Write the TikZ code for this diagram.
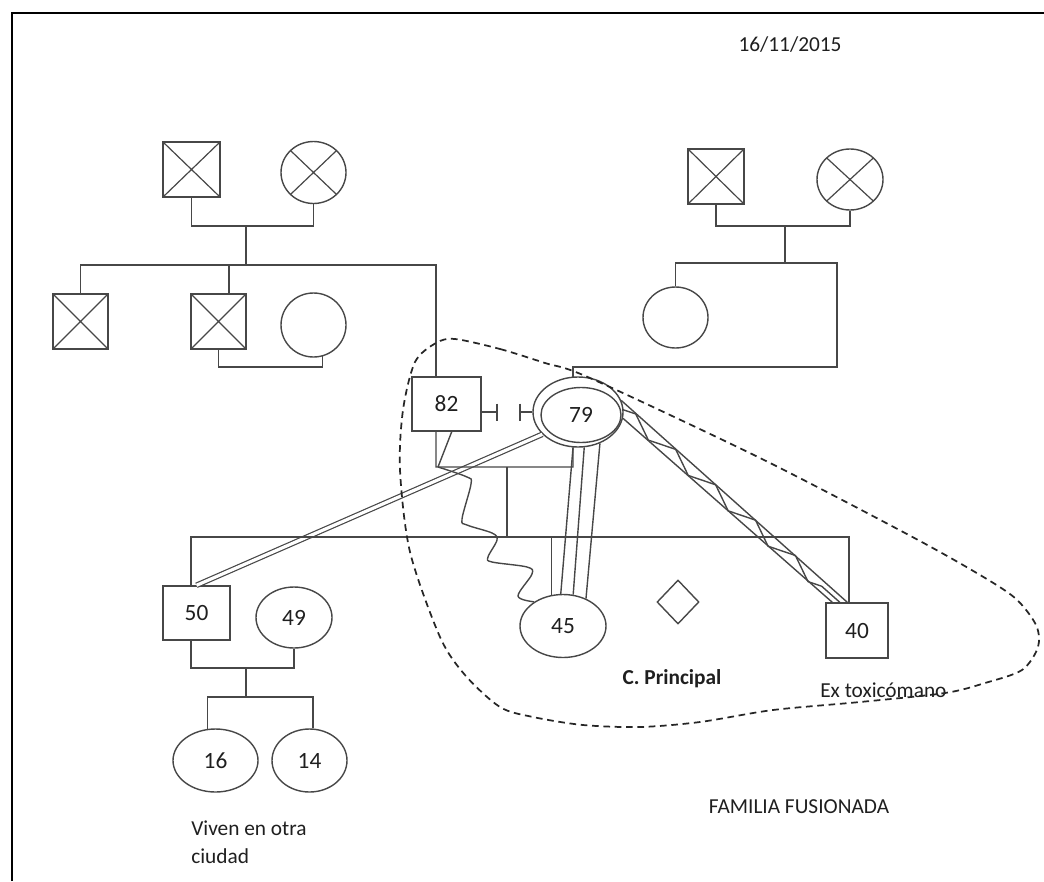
\documentclass[tikz,border=0pt]{standalone}
\usepackage{fontspec}
\setmainfont{Carlito}
\usetikzlibrary{shapes.geometric,calc,decorations.pathmorphing}
\definecolor{lc}{gray}{0.28}
\definecolor{tc}{gray}{0.12}
\begin{document}
\begin{tikzpicture}[x=0.75pt,y=-0.75pt,
  ln/.style={draw=lc,line width=1.05pt},
  rbox/.style 2 args={ln,rectangle,minimum width=#1*0.75pt,minimum height=#2*0.75pt,inner sep=0pt,text=tc,font=\fontsize{17.5}{20}\selectfont},
  ebox/.style 2 args={ln,ellipse,minimum width=#1*0.75pt,minimum height=#2*0.75pt,inner sep=0pt,text=tc,font=\fontsize{17.5}{20}\selectfont},
  xmark/.style={path picture={\draw[lc,line width=0.9pt] (path picture bounding box.north west) -- (path picture bounding box.south east) (path picture bounding box.south west) -- (path picture bounding box.north east);}},
  lbl/.style={text=tc,font=\fontsize{16}{21}\selectfont,inner sep=0pt},
  dbl/.style={draw=lc,line width=0.9pt,double=white,double distance=2.4pt},
  fus/.style={draw=black!85,line width=1.3pt,dash pattern=on 5pt off 3.5pt},
]
\useasboundingbox (0,0) rectangle (1044,881);
\draw[black,line width=1.6pt] (12,881) -- (12,13) -- (1044,13);

% texts
\node[lbl] (date) at (790,45) {16/11/2015};
\node[lbl,font=\fontsize{16}{21}\selectfont\bfseries] (cp) at (672,679) {C. Principal};
\node[lbl,anchor=west] (ext) at (820,690) {Ex toxicómano};
\node[lbl] (ff) at (799,807) {FAMILIA FUSIONADA};
\node[lbl,anchor=base west] (viv1) at (191,835) {Viven en otra};
\node[lbl,anchor=base west] (viv2) at (191,863) {ciudad};

% people
\node[rbox={57}{55},xmark] (gf1) at (191.5,169.5) {};
\node[ebox={65}{62},xmark] (gm1) at (313.5,172.5) {};
\node[rbox={55}{55},xmark] (u1) at (80.5,321.5) {};
\node[rbox={55}{55},xmark] (u2) at (218.5,321.5) {};
\node[ebox={65}{64}] (a2) at (313.5,325) {};
\node[rbox={56}{55},xmark] (gf2) at (716,176.5) {};
\node[ebox={66}{61},xmark] (gm2) at (850,179.5) {};
\node[ebox={65}{61}] (a3) at (675.5,317.5) {};
\node[rbox={69}{54}] (n82) at (446.5,404) {82};
\node[ebox={90}{70}] (e79o) at (578,412) {};
\node[ebox={80}{55}] (e79) at (581,415) {79};
\node[rbox={67}{54}] (n50) at (196.5,613) {50};
\node[ebox={76}{61}] (n49) at (294,617.5) {49};
\node[ebox={86}{63}] (n45) at (563,626) {45};
\node[rbox={62}{55}] (n40) at (857,630.5) {40};
\node[ebox={85}{63}] (n16) at (215.5,760.5) {16};
\node[ebox={75}{63}] (n14) at (309.5,760.5) {14};
\node[ln,diamond,minimum width=42*0.75pt,minimum height=44*0.75pt,inner sep=0pt] (dia) at (678,602) {};

% relationship lines (under family lines)
\draw[dbl] (e79o.212) -- (n50.north);

% left grandparents
\coordinate (j1) at (246,226);
\coordinate (j2) at (246,265);
\coordinate (t82) at (436,377);
\coordinate (t2) at (229,294);
\coordinate (jm) at (270,367);
\draw[ln] (gf1.south) |- (j1) -| (gm1.south);
\draw[ln] (j1) -- (j2);
\draw[ln] (u1.north) |- (j2) -| (t82);
\draw[ln] (t2) -- (t2 |- j2);
\draw[ln] (u2.south) |- (jm) -| (a2.-74);

% right grandparents
\coordinate (j3) at (785,226);
\coordinate (j4) at (785,263);
\coordinate (r1) at (837,263);
\coordinate (r2) at (837,367);
\coordinate (t79) at (573,377);
\draw[ln] (gf2.south) |- (j3) -| (gm2.south);
\draw[ln] (j3) -- (j4);
\draw[ln] (a3.north) |- (j4) -- (r1) -- (r2) -| (t79);

% 82 - 79 union
\coordinate (b82) at (436,431);
\coordinate (b82s) at (452,431);
\coordinate (j82) at (436,467);
\coordinate (j82s) at (438,467);
\coordinate (m79) at (573,467);
\coordinate (s1) at (497,412);
\coordinate (s2) at (520,412);
\draw[ln] (b82) -- (j82) -- (m79) -- (e79o.-98);
\draw[ln] (b82s) -- (j82s);
\draw[ln] (n82.east |- e79o.center) -- (s1) ++(0,-8.5) -- ++(0,17);
\draw[ln] (e79o.west) -- (s2) ++(0,-8.5) -- ++(0,17);

% children of 82-79
\coordinate (c1) at (507,467);
\coordinate (c2) at (507,537);
\coordinate (t50) at (191,586);
\coordinate (t40) at (849,603);
\draw[ln] (c1) -- (c2);
\draw[ln] (t50) |- (t40 |- c2) -- (t40);
\draw[ln] (n45.110) -- (n45.110 |- c2);

% 50 - 49 union
\coordinate (b50) at (191,640);
\coordinate (j5) at (246,668);
\coordinate (j6) at (246,697);
\draw[ln] (b50) |- (j5) -| (n49.south);
\draw[ln] (j5) -- (j6);
\draw[ln] (n16.104) |- (j6) -| (n14.84);

% fused relation 79 - 45
\draw[ln] (e79o.-98) -- (n45.94);
\draw[ln] (e79o.-80) -- (n45.72);
\draw[ln] (e79o.-55) -- (n45.50);

% conflict wave 82 - 45
\draw[ln] plot[smooth,tension=0.55] coordinates {(j82s) (467,477) (471,484) (462,519) (467,525) (492,533) (497,540) (488,557) (492,562) (527,567) (532,574) (518,596) (n45.140)};

% hostile band 79 - 40
\coordinate (za1) at (e79o.15);
\coordinate (zb1) at (e79o.-8);
\coordinate (za2) at ($(n40.north west)+(22,0)$);
\coordinate (zb2) at ($(n40.north west)+(7,0)$);
\draw[ln] (za1) -- (za2);
\draw[ln] (zb1) -- (zb2);
\draw[ln,decorate,decoration={zigzag,segment length=40pt,amplitude=4.2pt}] ($(za1)!0.5!(zb1)$) -- ($(za2)!0.5!(zb2)$);

% household boundary
\draw[fus] plot[smooth cycle,tension=0.5] coordinates {(455,339) (500,349) (545,363) (590,378) (760,458) (905,533) (975,572) (1015,598) (1036,625) (1038,647) (1022,670) (985,683) (945,693) (860,702) (773,710) (700,722) (640,727) (583,725) (533,717) (500,707) (465,675) (440,637) (410,552) (400,470) (403,410) (415,362) (436,343)};
\end{tikzpicture}
\end{document}
